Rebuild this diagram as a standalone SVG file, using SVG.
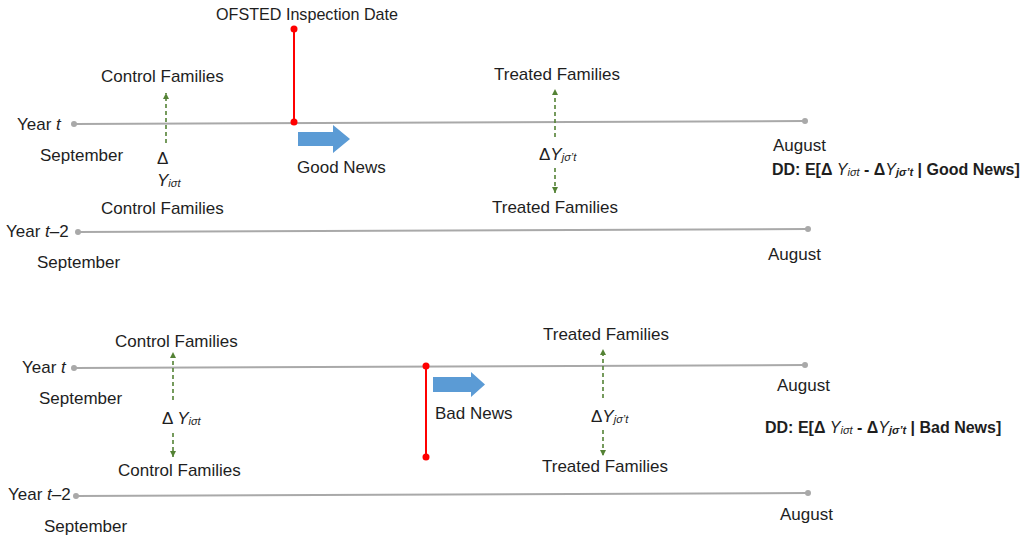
<svg xmlns="http://www.w3.org/2000/svg" width="1033" height="539" viewBox="0 0 1033 539">
<defs>
<marker id="gh" markerUnits="userSpaceOnUse" markerWidth="8" markerHeight="8" refX="6" refY="3.5" orient="auto"><path d="M0,0.5 L6,3.5 L0,6.5 Z" fill="#548235"/></marker>
<style>
text{font-family:"Liberation Sans",Arial,sans-serif;font-size:17px;fill:#1e1e1e}
.it{font-style:italic}
.sub{font-size:11px;font-style:italic}
.b{font-weight:bold;font-size:16px}
.tl{stroke:#a9a9a9;stroke-width:2;fill:none}
.dot{fill:#a9a9a9}
.red{stroke:#ff0000;stroke-width:2}
.rdot{fill:#ff0000}
.gd{stroke:#548235;stroke-width:1.6;stroke-dasharray:4 3;fill:none;marker-end:url(#gh)}
.blue{fill:#5b9bd5}
</style>
</defs>
<rect width="1033" height="539" fill="#ffffff"/>

<g id="connectors">
  <line class="tl" x1="74" y1="124" x2="805" y2="121"/>
  <circle class="dot" cx="74" cy="124" r="3"/><circle class="dot" cx="805" cy="121" r="3"/>
  <line class="tl" x1="78" y1="232" x2="808" y2="229"/>
  <circle class="dot" cx="78" cy="232" r="3"/><circle class="dot" cx="808" cy="229" r="3"/>
  <line class="tl" x1="74" y1="368" x2="805" y2="365"/>
  <circle class="dot" cx="74" cy="368" r="3"/><circle class="dot" cx="805" cy="365" r="3"/>
  <line class="tl" x1="76" y1="496" x2="808" y2="493"/>
  <circle class="dot" cx="76" cy="496" r="3"/><circle class="dot" cx="808" cy="493" r="3"/>
  <line class="red" x1="294" y1="29" x2="294" y2="122"/>
  <circle class="rdot" cx="294" cy="29" r="3.5"/><circle class="rdot" cx="294" cy="122" r="3.5"/>
  <line class="red" x1="426" y1="366" x2="426" y2="457"/>
  <circle class="rdot" cx="426" cy="366" r="3.5"/><circle class="rdot" cx="426" cy="457" r="3.5"/>
  <line class="gd" x1="166" y1="143" x2="166" y2="93"/>
  <line class="gd" x1="555" y1="137" x2="555" y2="89"/>
  <line class="gd" x1="555" y1="168" x2="555" y2="193"/>
  <line class="gd" x1="173" y1="400" x2="173" y2="352"/>
  <line class="gd" x1="173" y1="433" x2="173" y2="457"/>
  <line class="gd" x1="603" y1="398" x2="603" y2="349"/>
  <line class="gd" x1="603" y1="430" x2="603" y2="456"/>
  <polygon class="blue" points="298,132 333,132 333,125 350,139 333,153 333,146 298,146"/>
  <polygon class="blue" points="433,377 471,377 471,372 485,384.5 471,397 471,392 433,392"/>
</g>

<g id="top-panel-labels">
  <g id="ofsted"><text x="216" y="20" font-size="16" textLength="182" lengthAdjust="spacingAndGlyphs">OFSTED Inspection Date</text></g>
  <g id="top-control-t"><text x="101" y="82">Control Families</text></g>
  <g id="top-treated-t"><text x="494" y="80">Treated Families</text></g>
  <g id="top-year-t"><text x="17" y="130">Year <tspan class="it">t</tspan></text></g>
  <g id="top-sep-t"><text x="40" y="161">September</text></g>
  <g id="top-delta-c"><text x="157" y="164">Δ</text><text x="157" y="186" class="it" font-size="14">Y<tspan class="sub" font-size="10" dy="1">iσt</tspan></text></g>
  <g id="good-news"><text x="297" y="173">Good News</text></g>
  <g id="top-delta-t"><text x="539" y="160" font-size="16">Δ<tspan class="it">Y</tspan><tspan class="sub" font-size="12" dy="1">jσ’t</tspan></text></g>
  <g id="top-aug-t"><text x="773" y="151">August</text></g>
  <g id="dd-good"><text x="772" y="175" class="b">DD: E[Δ <tspan class="it" font-weight="normal">Y</tspan><tspan class="sub" font-weight="normal" font-size="10" dy="1">iσt</tspan><tspan dy="-1"> - Δ</tspan><tspan class="it" font-weight="normal">Y</tspan><tspan class="sub" font-size="10" dy="1">jσ’t</tspan><tspan dy="-1"> | Good News]</tspan></text></g>
  <g id="top-control-t2"><text x="101" y="214">Control Families</text></g>
  <g id="top-treated-t2"><text x="492" y="213">Treated Families</text></g>
  <g id="top-year-t2"><text x="6" y="237">Year <tspan class="it">t</tspan>–2</text></g>
  <g id="top-sep-t2"><text x="37" y="268">September</text></g>
  <g id="top-aug-t2"><text x="768" y="260">August</text></g>
</g>

<g id="bottom-panel-labels">
  <g id="bot-control-t"><text x="115" y="347">Control Families</text></g>
  <g id="bot-treated-t"><text x="543" y="340">Treated Families</text></g>
  <g id="bot-year-t"><text x="22" y="373">Year <tspan class="it">t</tspan></text></g>
  <g id="bot-sep-t"><text x="39" y="404">September</text></g>
  <g id="bot-delta-c"><text x="162" y="424" font-size="16">Δ <tspan class="it">Y</tspan><tspan class="sub" dy="1">iσt</tspan></text></g>
  <g id="bad-news"><text x="435" y="419">Bad News</text></g>
  <g id="bot-delta-t"><text x="591" y="422" font-size="16">Δ<tspan class="it">Y</tspan><tspan class="sub" font-size="12" dy="1">jσ’t</tspan></text></g>
  <g id="bot-aug-t"><text x="777" y="391">August</text></g>
  <g id="dd-bad"><text x="765" y="433" class="b">DD: E[Δ <tspan class="it" font-weight="normal">Y</tspan><tspan class="sub" font-weight="normal" font-size="10" dy="1">iσt</tspan><tspan dy="-1"> - Δ</tspan><tspan class="it" font-weight="normal">Y</tspan><tspan class="sub" font-size="10" dy="1">jσ’t</tspan><tspan dy="-1">  | Bad News]</tspan></text></g>
  <g id="bot-control-t2"><text x="118" y="476">Control Families</text></g>
  <g id="bot-treated-t2"><text x="542" y="472">Treated Families</text></g>
  <g id="bot-year-t2"><text x="8" y="500">Year <tspan class="it">t</tspan>–2</text></g>
  <g id="bot-sep-t2"><text x="44" y="532">September</text></g>
  <g id="bot-aug-t2"><text x="780" y="520">August</text></g>
</g>
</svg>
